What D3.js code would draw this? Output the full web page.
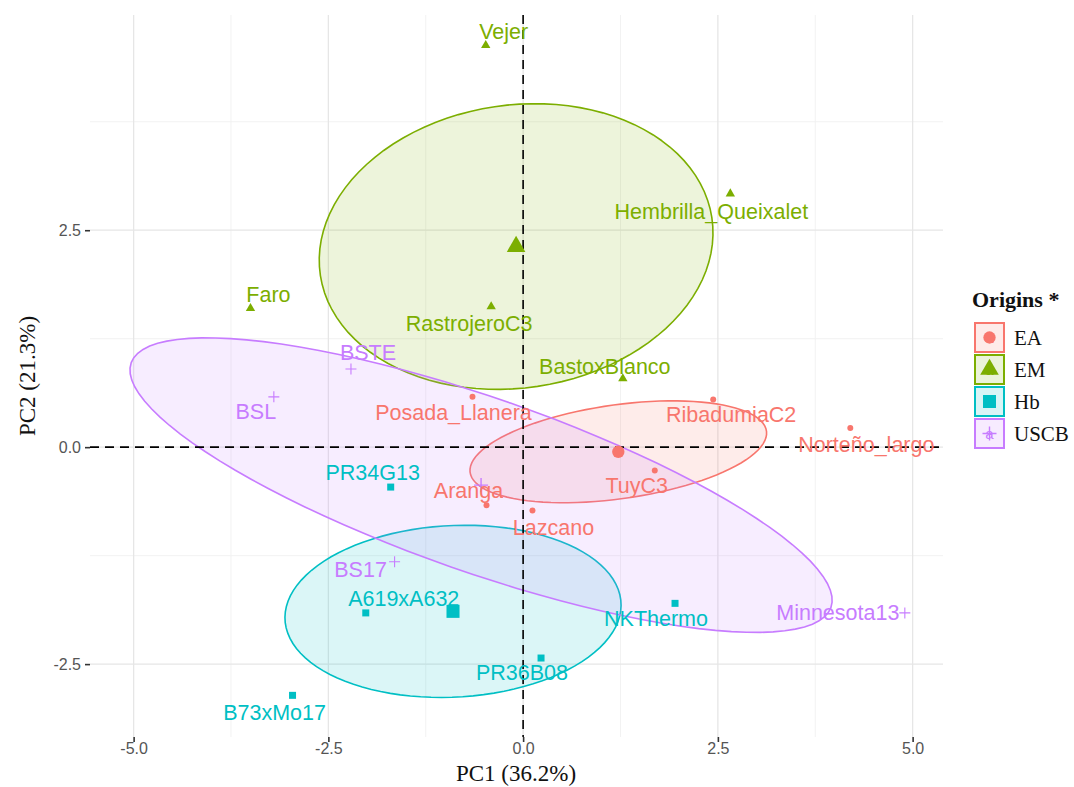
<!DOCTYPE html>
<html>
<head>
<meta charset="utf-8">
<script src="https://cdn.jsdelivr.net/npm/d3@7"></script>
<style>
  body { margin: 0; background: #fff; }
</style>
</head>
<body>
<div id="chart"></div>
<script>
// scores of each accession on PC1 / PC2
var names = ["Posada_Llanera", "RibadumiaC2", "Norteño_largo", "TuyC3", "Aranga", "Lazcano",
  "Vejer", "Hembrilla_Queixalet", "Faro", "RastrojeroC3", "BastoxBlanco",
  "PR34G13", "A619xA632", "B73xMo17", "PR36B08", "NKThermo",
  "BSTE", "BSL", "BS17", "Minnesota13"];
var origin = ["EA", "EA", "EA", "EA", "EA", "EA",
  "EM", "EM", "EM", "EM", "EM",
  "Hb", "Hb", "Hb", "Hb", "Hb",
  "USCB", "USCB", "USCB", "USCB"];
var pc1 = [-0.65, 2.44, 4.20, 1.69, -0.47, 0.12,
  -0.48, 2.66, -3.50, -0.41, 1.28,
  -1.70, -2.02, -2.96, 0.23, 1.95,
  -2.21, -3.20, -1.65, 4.90];
var pc2 = [0.58, 0.55, 0.22, -0.27, -0.67, -0.73,
  4.63, 2.92, 1.60, 1.62, 0.79,
  -0.46, -1.91, -2.86, -2.43, -1.80,
  0.90, 0.58, -1.32, -1.91];

var groups = ["EA", "EM", "Hb", "USCB"];
var xTicks = [-5, -2.5, 0, 2.5, 5];
var yTicks = [-2.5, 0, 2.5];
var xTitle = "PC1 (36.2%)";
var yTitle = "PC2 (21.3%)";
var legendTitle = "Origins *";

var colors = { EA: "#F8766D", EM: "#7CAE00", Hb: "#00BFC4", USCB: "#C77CFF" };

// where ggrepel put the text, relative to its point (px)
var labelShift = {
  "Posada_Llanera": [-19, 16], "RibadumiaC2": [18, 16], "Norteño_largo": [16, 17],
  "TuyC3": [-18, 15], "Aranga": [-18, -14], "Lazcano": [21, 17],
  "Vejer": [18, -13], "Hembrilla_Queixalet": [-19, 18], "Faro": [18, -13],
  "RastrojeroC3": [-22, 17], "BastoxBlanco": [-18, -12],
  "PR34G13": [-18, -14], "A619xA632": [38, -14], "B73xMo17": [-18, 18],
  "PR36B08": [-19, 15], "NKThermo": [-19, 16],
  "BSTE": [17, -16], "BSL": [-18, 15], "BS17": [-34, 8], "Minnesota13": [-67, 0]
};

var W = 1074, H = 787;
var svg = d3.select("#chart").append("svg")
  .attr("width", W).attr("height", H)
  .style("font-family", "'Liberation Sans', Arial, sans-serif");

var x = d3.scaleLinear().domain([-5.56, 5.39]).range([90, 943]);
var y = d3.scaleLinear().domain([-3.34, 4.98]).range([737, 15]);

var rows = names.map(function(n, i) {
  return { name: n, group: origin[i], x: pc1[i], y: pc2[i] };
});

// grid
function minors(ticks, dom) {
  var step = ticks[1] - ticks[0], out = [];
  for (var v = ticks[0] - step / 2; v <= ticks[ticks.length - 1] + step; v += step)
    if (v > dom[0] && v < dom[1]) out.push(v);
  return out;
}
var grid = svg.append("g");
grid.selectAll(".vmin").data(minors(xTicks, x.domain())).enter().append("line")
  .attr("x1", d => x(d)).attr("x2", d => x(d)).attr("y1", 15).attr("y2", 737)
  .attr("stroke", "#f0f0f0").attr("stroke-width", 0.9);
grid.selectAll(".hmin").data(minors(yTicks, y.domain())).enter().append("line")
  .attr("y1", d => y(d)).attr("y2", d => y(d)).attr("x1", 90).attr("x2", 943)
  .attr("stroke", "#f0f0f0").attr("stroke-width", 0.9);
grid.selectAll(".vmaj").data(xTicks).enter().append("line")
  .attr("x1", d => x(d)).attr("x2", d => x(d)).attr("y1", 15).attr("y2", 737)
  .attr("stroke", "#e6e6e6").attr("stroke-width", 1.3);
grid.selectAll(".hmaj").data(yTicks).enter().append("line")
  .attr("y1", d => y(d)).attr("y2", d => y(d)).attr("x1", 90).attr("x2", 943)
  .attr("stroke", "#e6e6e6").attr("stroke-width", 1.3);

// 95% confidence ellipse around each group mean (cov / n)
function ellipse(pts) {
  var n = pts.length;
  var xs = pts.map(p => p.x), ys = pts.map(p => p.y);
  var mx = d3.mean(xs), my = d3.mean(ys);
  var sx = Math.sqrt(d3.variance(xs) / n), sy = Math.sqrt(d3.variance(ys) / n);
  var cxy = d3.sum(pts, p => (p.x - mx) * (p.y - my)) / (n - 1) / n;
  var d = Math.acos(cxy / (sx * sy));
  var t = Math.sqrt(-2 * Math.log(0.05));
  return d3.range(100).map(function(k) {
    var a = k / 100 * 2 * Math.PI;
    return [mx + t * sx * Math.cos(a + d / 2), my + t * sy * Math.cos(a - d / 2)];
  });
}
var line = d3.line().x(d => x(d[0])).y(d => y(d[1])).curve(d3.curveLinearClosed);

var byGroup = groups.map(function(g) {
  var pts = rows.filter(r => r.group === g);
  return { group: g, pts: pts, mx: d3.mean(pts, p => p.x), my: d3.mean(pts, p => p.y) };
});

svg.append("g").selectAll("path").data(byGroup).enter().append("path")
  .attr("d", d => line(ellipse(d.pts)))
  .attr("fill", d => colors[d.group]).attr("fill-opacity", 0.14)
  .attr("stroke", d => colors[d.group]).attr("stroke-width", 1.6);

// zero lines
svg.append("line").attr("x1", 90).attr("x2", 943).attr("y1", y(0)).attr("y2", y(0))
  .attr("stroke", "#000").attr("stroke-width", 1.6).attr("stroke-dasharray", "9,6");
svg.append("line").attr("x1", x(0)).attr("x2", x(0)).attr("y1", 15).attr("y2", 737)
  .attr("stroke", "#000").attr("stroke-width", 1.6).attr("stroke-dasharray", "9,6");

// markers
var shapes = { EA: d3.symbolCircle, EM: d3.symbolTriangle, Hb: d3.symbolSquare };
function marker(sel, g, big) {
  var c = colors[g];
  if (g === "USCB") {
    var h = big ? 7 : 5.5;
    sel.append("path").attr("d", "M" + (-h) + ",0H" + h + "M0," + (-h) + "V" + h)
      .attr("stroke", c).attr("stroke-width", big ? 1.4 : 1.1).attr("fill", "none");
  } else {
    var size = { EA: big ? 120 : 28, EM: big ? 150 : 38, Hb: big ? 170 : 49 }[g];
    sel.append("path").attr("d", d3.symbol().type(shapes[g]).size(size)()).attr("fill", c);
  }
}

var pts = svg.append("g");
rows.forEach(function(r) {
  var g = pts.append("g").attr("transform", "translate(" + x(r.x) + "," + y(r.y) + ")");
  marker(g, r.group, false);
});
byGroup.forEach(function(b) {
  var g = pts.append("g").attr("transform", "translate(" + x(b.mx) + "," + y(b.my) + ")");
  marker(g, b.group, true);
});

// labels
svg.append("g").selectAll("text").data(rows).enter().append("text")
  .attr("x", d => x(d.x) + labelShift[d.name][0])
  .attr("y", d => y(d.y) + labelShift[d.name][1])
  .attr("text-anchor", "middle").attr("dominant-baseline", "central")
  .attr("font-size", 21.5)
  .attr("fill", d => colors[d.group])
  .text(d => d.name);

// axes
var fmt = d => d.toFixed(1);
var xAxis = svg.append("g").attr("transform", "translate(0,737)")
  .call(d3.axisBottom(x).tickValues(xTicks).tickFormat(fmt).tickSize(5).tickPadding(1));
var yAxis = svg.append("g").attr("transform", "translate(90,0)")
  .call(d3.axisLeft(y).tickValues(yTicks).tickFormat(fmt).tickSize(5).tickPadding(4));
[xAxis, yAxis].forEach(function(a) {
  a.select(".domain").remove();
  a.selectAll(".tick line").attr("stroke", "#333").attr("stroke-width", 1.6);
  a.selectAll(".tick text").attr("fill", "#555").attr("font-size", 16)
    .attr("font-family", "'Liberation Sans', Arial, sans-serif");
});

var serif = "'Liberation Serif', 'Times New Roman', serif";
svg.append("text").attr("x", 516).attr("y", 781).attr("text-anchor", "middle")
  .attr("font-family", serif).attr("font-size", 23).attr("fill", "#111").text(xTitle);
svg.append("text").attr("transform", "translate(35,376) rotate(-90)").attr("text-anchor", "middle")
  .attr("font-family", serif).attr("font-size", 23).attr("fill", "#111").text(yTitle);

// legend
var leg = svg.append("g").attr("transform", "translate(972,0)");
leg.append("text").attr("x", 0).attr("y", 307).attr("font-family", serif)
  .attr("font-weight", "bold").attr("font-size", 22).attr("fill", "#111").text(legendTitle);
groups.forEach(function(g, i) {
  var top = 322 + i * 32;
  var k = leg.append("g").attr("transform", "translate(2," + top + ")");
  k.append("rect").attr("x", 1).attr("y", 1).attr("width", 29).attr("height", 29)
    .attr("fill", colors[g]).attr("fill-opacity", 0.15)
    .attr("stroke", colors[g]).attr("stroke-width", 2);
  k.append("text").attr("x", 15.5).attr("y", 21).attr("text-anchor", "middle")
    .attr("font-size", 15).attr("fill", colors[g]).text("a");
  var c = k.append("g").attr("transform", "translate(15.5,15.5)");
  marker(c, g, true);
  leg.append("text").attr("x", 42).attr("y", top + 16).attr("dominant-baseline", "central")
    .attr("font-family", serif).attr("font-size", 21).attr("fill", "#111").text(g);
});
</script>
</body>
</html>
